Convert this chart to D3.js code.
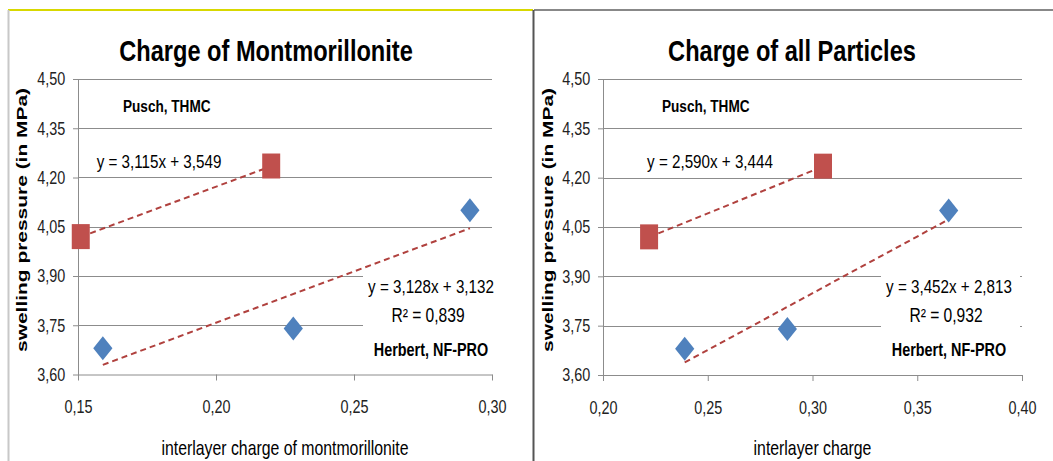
<!DOCTYPE html>
<html>
<head>
<meta charset="utf-8">
<script src="https://cdn.jsdelivr.net/npm/d3@7"></script>
<style>
body { margin: 0; background: #fff; }
text { font-family: "Liberation Sans", Arial, sans-serif; }
</style>
</head>
<body>
<script>
// chart texts
const titles = ['Charge of Montmorillonite', 'Charge of all Particles'];
const xTitles = ['interlayer charge of montmorillonite', 'interlayer charge'];
const yTitle = 'swelling pressure (in MPa)';
const seriesNames = ['Pusch, THMC', 'Herbert, NF-PRO'];

// ticks
const yTicks = [3.60, 3.75, 3.90, 4.05, 4.20, 4.35, 4.50];
const montTicks = [0.15, 0.20, 0.25, 0.30];
const allTicks = [0.20, 0.25, 0.30, 0.35, 0.40];

// points: [charge, pressure]
const puschMont = [[0.151, 4.02], [0.220, 4.235]];
const herbertMont = [[0.159, 3.68], [0.228, 3.74], [0.292, 4.10]];
const puschAll = [[0.222, 4.02], [0.305, 4.235]];
const herbertAll = [[0.239, 3.68], [0.288, 3.74], [0.365, 4.10]];

// linear fits printed on the chart: [slope, intercept]
const fitPuschMont = [3.115, 3.549];
const fitHerbertMont = [3.128, 3.132];
const fitPuschAll = [2.590, 3.444];
const fitHerbertAll = [3.452, 2.813];
const r2Herbert = [0.839, 0.932];

const SX = 0.8;  // the picture is squeezed sideways
const grey = '#8c8c8c';
const comma = f => s => d3.format(f)(s).replace('.', ',');

let svg = d3.select('body').append('svg')
    .attr('width', 1053)
    .attr('height', 461);

// frames
svg.append('line').attr('x1', 8).attr('x2', 533).attr('y1', 10).attr('y2', 10)
    .attr('stroke', '#d8d800').attr('stroke-width', 2);
svg.append('line').attr('x1', 8.5).attr('x2', 8.5).attr('y1', 10).attr('y2', 461)
    .attr('stroke', '#c8c8c8').attr('stroke-width', 2);
svg.append('line').attr('x1', 534).attr('x2', 1053).attr('y1', 10).attr('y2', 10)
    .attr('stroke', '#888').attr('stroke-width', 2);
svg.append('line').attr('x1', 533.5).attr('x2', 533.5).attr('y1', 10).attr('y2', 461)
    .attr('stroke', '#555').attr('stroke-width', 2);

function label(g, x, y, txt, size, weight, anchor) {
    return g.append('text')
        .attr('transform', 'translate(' + x + ',' + y + ') scale(' + SX + ',1)')
        .attr('text-anchor', anchor || 'start')
        .style('font-size', size + 'px')
        .style('font-weight', weight || 'normal')
        .attr('fill', '#000')
        .text(txt);
}

const panels = [
    { title: titles[0], xTitle: xTitles[0], xTicks: montTicks, pusch: puschMont, herbert: herbertMont,
      fitP: fitPuschMont, fitH: fitHerbertMont, r2: r2Herbert[0],
      left: 78, right: 492, top: 79, bottom: 374.5, titleX: 266, yTitleX: 27,
      puschAt: [123, 112], eq1At: [159, 168], eq2X: 431, box: [363, 272, 131, 61] },
    { title: titles[1], xTitle: xTitles[1], xTicks: allTicks, pusch: puschAll, herbert: herbertAll,
      fitP: fitPuschAll, fitH: fitHerbertAll, r2: r2Herbert[1],
      left: 603, right: 1022, top: 79, bottom: 375, titleX: 792, yTitleX: 553,
      puschAt: [662, 112], eq1At: [710, 168], eq2X: 949, box: [881, 272, 139, 61] }
];

const square = d3.symbol(d3.symbolSquare, 400);
const diamond = d3.symbol({
    draw(ctx, size) {
        const r = Math.sqrt(size) / 2;
        ctx.moveTo(0, -r); ctx.lineTo(r, 0); ctx.lineTo(0, r); ctx.lineTo(-r, 0); ctx.closePath();
    }
}, 576);

panels.forEach(p => {
    let g = svg.append('g');
    let x = d3.scaleLinear().domain(d3.extent(p.xTicks)).range([p.left, p.right]);
    let y = d3.scaleLinear().domain([3.60, 4.50]).range([p.bottom, p.top]);

    // gridlines
    g.append('g').selectAll('line').data(yTicks.slice(1)).join('line')
        .attr('x1', p.left).attr('x2', p.right)
        .attr('y1', d => Math.round(y(d)) + 0.5).attr('y2', d => Math.round(y(d)) + 0.5)
        .attr('stroke', grey);

    let yAxis = g.append('g')
        .attr('transform', 'translate(' + p.left + ',0)')
        .call(d3.axisLeft(y).tickValues(yTicks).tickFormat(comma('.2f'))
            .tickSizeInner(5).tickSizeOuter(0).tickPadding(11));
    let xAxis = g.append('g')
        .attr('transform', 'translate(0,' + p.bottom + ')')
        .call(d3.axisBottom(x).tickValues(p.xTicks).tickFormat(comma('.2f'))
            .tickSizeInner(6).tickSizeOuter(0).tickPadding(20));
    [yAxis, xAxis].forEach(a => {
        a.select('.domain').attr('stroke', grey);
        a.selectAll('.tick line').attr('stroke', grey);
        a.selectAll('text')
            .attr('transform', 'scale(' + SX + ',1)')
            .style('font-size', '18px')
            .attr('fill', '#222');
    });

    // trend lines
    let line = d3.line().x(d => x(d[0])).y(d => y(d[1]));
    [[p.pusch, p.fitP], [p.herbert, p.fitH]].forEach(([data, fit]) => {
        let ends = d3.extent(data, d => d[0]).map(v => [v, fit[0] * v + fit[1]]);
        g.append('path').attr('d', line(ends))
            .attr('fill', 'none')
            .attr('stroke', '#b0413e')
            .attr('stroke-width', 2)
            .attr('stroke-dasharray', '6,4');
    });

    // markers
    g.append('g').selectAll('path').data(p.pusch).join('path')
        .attr('d', square)
        .attr('transform', d => 'translate(' + x(d[0]) + ',' + y(d[1]) + ') scale(0.9,1.25)')
        .attr('fill', '#c0504d');
    g.append('g').selectAll('path').data(p.herbert).join('path')
        .attr('d', diamond)
        .attr('transform', d => 'translate(' + x(d[0]) + ',' + y(d[1]) + ') scale(0.8,1)')
        .attr('fill', '#4f81bd');

    // labels
    label(g, p.titleX, 61, p.title, 29.5, 'bold', 'middle');
    label(g, p.puschAt[0], p.puschAt[1], seriesNames[0], 17, 'bold');
    let eq = f => 'y = ' + comma('.3f')(f[0]) + 'x + ' + comma('.3f')(f[1]);
    label(g, p.eq1At[0], p.eq1At[1], eq(p.fitP), 19, 'normal', 'middle');

    g.append('rect')
        .attr('x', p.box[0]).attr('y', p.box[1])
        .attr('width', p.box[2]).attr('height', p.box[3])
        .attr('fill', '#fff');
    label(g, p.eq2X, 293, eq(p.fitH), 19, 'normal', 'middle');
    label(g, p.eq2X - 3, 322, 'R² = ' + comma('.3f')(p.r2), 19.5, 'normal', 'middle');
    label(g, p.eq2X, 356, seriesNames[1], 18, 'bold', 'middle');

    // axis titles
    label(g, (p.left + p.right) / 2, 455, p.xTitle, 19.8, 'normal', 'middle');
    g.append('text')
        .attr('transform', 'translate(' + p.yTitleX + ',220) rotate(-90) scale(1,' + SX + ')')
        .attr('text-anchor', 'middle')
        .style('font-size', '18.5px')
        .style('font-weight', 'bold')
        .attr('textLength', 264)
        .attr('lengthAdjust', 'spacingAndGlyphs')
        .text(yTitle);
});
</script>
</body>
</html>
